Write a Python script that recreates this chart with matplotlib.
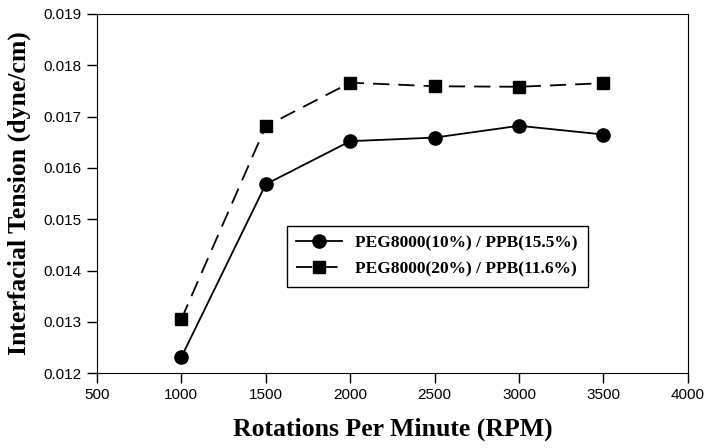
import matplotlib.pyplot as plt

rpm = [1000, 1500, 2000, 2500, 3000, 3500]
tension_10 = [0.01231, 0.01568, 0.01652, 0.01659, 0.01682, 0.01665]
tension_20 = [0.01305, 0.01681, 0.01766, 0.01759, 0.01758, 0.01765]
labels = ['PEG8000(10%) / PPB(15.5%)', 'PEG8000(20%) / PPB(11.6%)']

fig = plt.figure(figsize=(7.07, 4.48), dpi=100)
ax = fig.add_axes([0.137, 0.167, 0.836, 0.802])

ax.plot(rpm, tension_10, color='black', lw=1.3, marker='o', ms=9.5, label=labels[0])
ax.plot(rpm, tension_20, color='black', lw=1.3, marker='s', ms=8,
        dashes=(9, 5), label=labels[1])

ax.set_xlim(500, 4000)
ax.set_ylim(0.012, 0.019)
ax.set_xticks(range(500, 4001, 500))
ax.set_yticks([0.012, 0.013, 0.014, 0.015, 0.016, 0.017, 0.018, 0.019])
ax.yaxis.set_major_formatter(plt.FuncFormatter(lambda v, p: f'{v:.3f}'))
ax.tick_params(direction='out', length=7, width=1, pad=4, labelsize=11)
for lab in ax.get_xticklabels() + ax.get_yticklabels():
    lab.set_fontfamily('Liberation Sans')

ax.set_xlabel('Rotations Per Minute (RPM)', fontfamily='Liberation Serif',
              fontweight='bold', fontsize=18.5, labelpad=11)
ax.set_ylabel('Interfacial Tension (dyne/cm)', fontfamily='Liberation Serif',
              fontweight='bold', fontsize=18.5, labelpad=9)

leg = ax.legend(loc='upper left', bbox_to_anchor=(0.3215, 0.41), borderaxespad=0,
                fancybox=False, edgecolor='black', framealpha=1,
                handlelength=2.65, handletextpad=0.75, labelspacing=0.55,
                borderpad=0.55,
                prop={'family': 'Liberation Serif', 'weight': 'bold', 'size': 12.5})
leg.get_frame().set_linewidth(1.0)

fig.savefig('out.png', dpi=100)
